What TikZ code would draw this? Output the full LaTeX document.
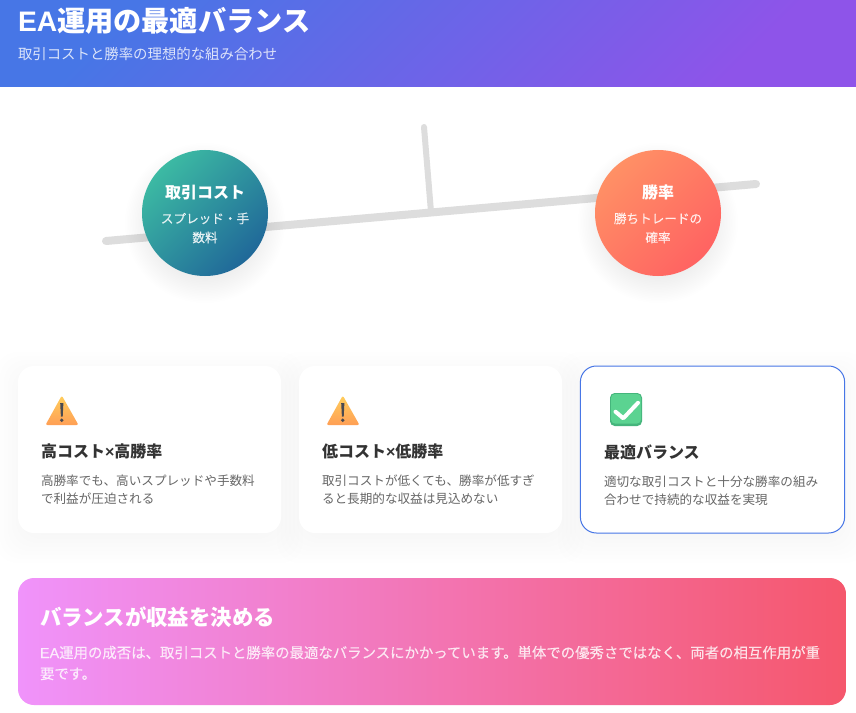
\documentclass[tikz,border=0pt]{standalone}
\usepackage{fontspec}
\setmainfont{Noto Sans CJK JP}
\newfontfamily\latinf{Liberation Sans}
\newfontfamily\heavyf[FakeBold=0.15]{Noto Sans CJK JP}
\newfontfamily\heavyl[FakeBold=0.15]{Liberation Sans}
\newcommand{\fpx}[2]{\fontsize{\the\dimexpr#1pt*3/4\relax}{\the\dimexpr#2pt*3/4\relax}\selectfont}
\definecolor{headA}{HTML}{4776E6}
\definecolor{headB}{HTML}{8E54E9}
\definecolor{tealA}{HTML}{3CBAA3}
\definecolor{tealB}{HTML}{206899}
\definecolor{coralA}{HTML}{FF9065}
\definecolor{coralB}{HTML}{FF6362}
\definecolor{pinkA}{HTML}{F093FB}
\definecolor{pinkB}{HTML}{F5576C}
\definecolor{beamc}{HTML}{DDDDDD}
\definecolor{ink}{HTML}{333333}
\definecolor{soft}{HTML}{666666}
\definecolor{warnA}{HTML}{FFCE5C}
\definecolor{warnB}{HTML}{FF9F55}
\definecolor{warnInk}{HTML}{4A4A50}
\definecolor{okOuter}{HTML}{45B57C}
\definecolor{okInner}{HTML}{5BD391}
\tikzset{
  x=0.75pt,y=-0.75pt,
  lbl/.style={inner sep=0pt,outer sep=0pt,anchor=base west},
  ctr/.style={inner sep=0pt,outer sep=0pt,anchor=base},
  bal/.style={circle,inner sep=0pt,minimum size=94.5pt},
  balsub/.style={inner sep=0pt,outer sep=0pt,align=center,text=white,text opacity=0.85,font=\heavyf\fpx{12.6}{19}},
  cardbox/.style={rounded corners=12pt,fill=white,inner sep=0pt,minimum height=125.25pt},
  cardtitle/.style={lbl,text=ink,font=\fpx{16}{20}\bfseries},
  carddesc/.style={inner sep=0pt,outer sep=0pt,anchor=west,align=left,text=soft,font=\fpx{12.6}{18.3}},
  beamline/.style={draw=beamc,line cap=round},
}
\newcommand{\softcirc}[2]{% centre, radius in px
  \foreach \k in {0,...,20}{
    \fill[black,opacity=0.004] (#1) ++(0,10) circle ({(#2+17-1.6*\k)*0.75pt});
  }}
\newcommand{\softcard}[4]{% x1,y1,x2,y2
  \foreach \k in {0,...,7}{
    \fill[black,opacity=0.004,rounded corners=16pt] ({#1-22+4*\k},{#2+8-22+4*\k}) rectangle ({#3+22-4*\k},{#4+8+22-4*\k});
  }}
\begin{document}
\begin{tikzpicture}
\useasboundingbox (0,0) rectangle (856,713);
\fill[white] (0,0) rectangle (856,713);

% header
\node[inner sep=0pt,outer sep=0pt,minimum width=642pt,minimum height=65.25pt,top color=headA,bottom color=headB,shading angle=45] (header) at (428,43.5) {};
\node[lbl,text=white,font=\fpx{28.2}{34}\bfseries] (title) at (18,32) {{\latinf\bfseries EA}運用の最適バランス};
\node[lbl,text=white,text opacity=0.8,font=\fpx{14.4}{18}] (subtitle) at (18,60) {取引コストと勝率の理想的な組み合わせ};

% balance
\coordinate (beamL) at (106,241);
\coordinate (beamR) at (756,184);
\coordinate (postT) at (424,127);
\coordinate (postB) at (431,212);
\draw[beamline,line width=6pt] (beamL) -- (beamR);
\draw[beamline,line width=4.5pt] (postT) -- (postB);

\softcirc{205,213}{63}
\softcirc{658,213}{63}
\node[bal,top color=tealA,bottom color=tealB,shading angle=45] (cost) at (205,213) {};
\node[bal,top color=coralA,bottom color=coralB,shading angle=45] (win) at (658,213) {};
\node[ctr,text=white,font=\fpx{16}{20}\bfseries] (costT) at (205,198) {取引コスト};
\node[balsub] (costS) at (205,228) {スプレッド・手\\数料};
\node[ctr,text=white,font=\fpx{16}{20}\bfseries] (winT) at (658,198) {勝率};
\node[balsub] (winS) at (658,228) {勝ちトレードの\\確率};

% cards
\softcard{18}{366}{281}{533}
\softcard{299}{366}{562}{533}
\softcard{580}{366}{845}{533}
\node[cardbox,minimum width=197.25pt] (c1) at (149.5,449.5) {};
\node[cardbox,minimum width=197.25pt] (c2) at (430.5,449.5) {};
\node[cardbox,minimum width=198.2pt,draw=headA,line width=0.75pt] (c3) at (712.5,449.5) {};

% warning icons
\foreach \dx in {0,281}{
  \begin{scope}[xshift=\dx*0.75pt]
    \shade[top color=warnA,bottom color=warnB,rounded corners=1.5pt] (61.8,395.5) -- (78.5,425) -- (45.5,425) -- cycle;
    \fill[warnInk] (60.2,403) -- (63.4,403) -- (62.7,416.5) -- (60.9,416.5) -- cycle;
    \fill[warnInk] (61.8,420.3) circle (1.4pt);
  \end{scope}
}
\node[cardtitle] (t1) at (41,457) {高コスト{\latinf\bfseries ×}高勝率};
\node[carddesc] (d1) at (41,489.7) {高勝率でも、高いスプレッドや手数料\\で利益が圧迫される};
\node[cardtitle] (t2) at (322,457) {低コスト{\latinf\bfseries ×}低勝率};
\node[carddesc] (d2) at (322,489.7) {取引コストが低くても、勝率が低すぎ\\ると長期的な収益は見込めない};

% check icon
\fill[okOuter,rounded corners=3.5pt] (610,393) rectangle (642,426);
\fill[okInner,rounded corners=3pt] (611,394) rectangle (641,423.5);
\draw[white,line width=3pt,line cap=round,line join=round] (615.5,411.7) -- (623.3,418.3) -- (638,402.8);
\node[cardtitle] (t3) at (604,458) {最適バランス};
\node[carddesc] (d3) at (604,490.5) {適切な取引コストと十分な勝率の組み\\合わせで持続的な収益を実現};

% banner
\node[rounded corners=12pt,inner sep=0pt,outer sep=0pt,minimum width=621pt,minimum height=95.25pt,left color=pinkA,right color=pinkB] (banner) at (432,641.5) {};
\node[lbl,text=white,font=\fpx{21.4}{26}\bfseries] (bt) at (40,625) {バランスが収益を決める};
\node[inner sep=0pt,outer sep=0pt,anchor=west,align=left,text=white,text opacity=0.8,font=\heavyf\fpx{14.4}{21}] (bd) at (40,663) {{\heavyl EA}運用の成否は、取引コストと勝率の最適なバランスにかかっています。単体での優秀さではなく、両者の相互作用が重\\要です。};
\end{tikzpicture}
\end{document}
